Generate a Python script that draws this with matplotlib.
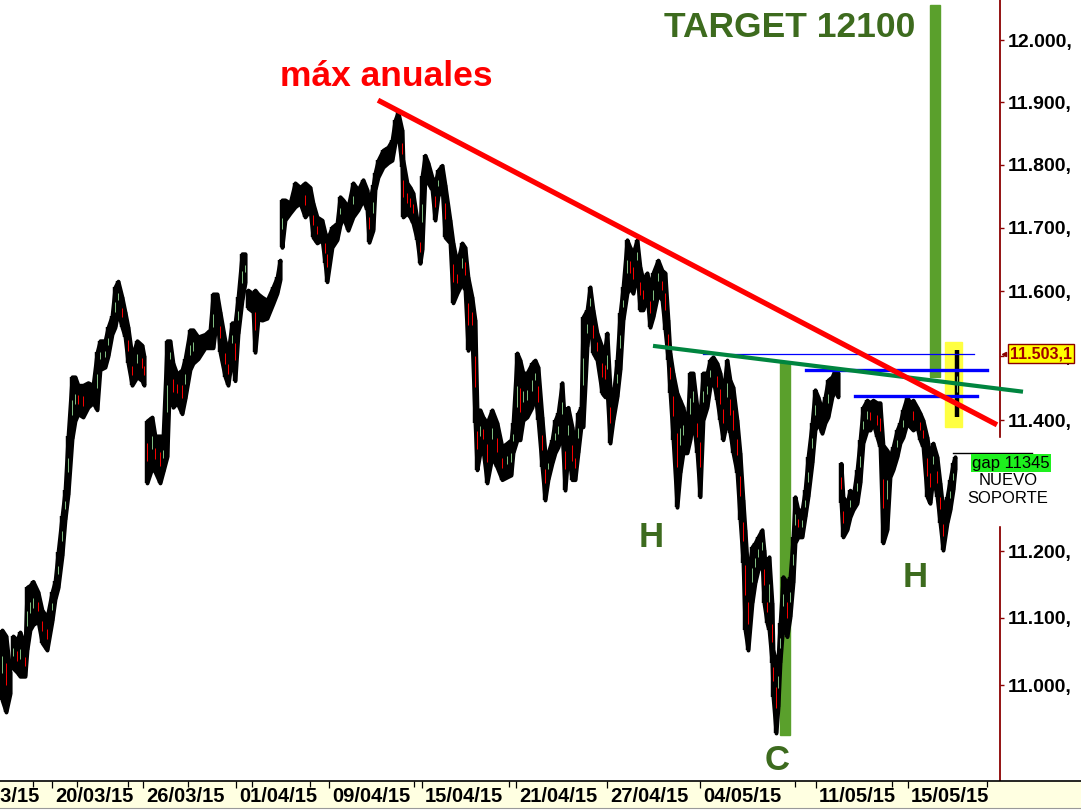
import numpy as np
import matplotlib.pyplot as plt
from matplotlib.ticker import FixedLocator, NullLocator, FuncFormatter
from matplotlib.patches import Rectangle

plt.rcParams['font.family'] = ['Liberation Sans', 'DejaVu Sans']

#-------------- price data (intraday bars, high / low) ------------------------------

bar = [2, 6, 10, 13, 17, 20, 25, 27, 30, 33, 38, 42, 47, 52, 55, 58, 62, 65, 68, 72,
       75, 78, 83, 88, 93, 97, 100, 105, 108, 112, 115, 118, 122, 125, 128, 132, 137, 142, 144, 147,
       152, 155, 160, 163, 167, 170, 173, 177, 182, 185, 190, 193, 198, 205, 210, 213, 217, 220, 225, 228,
       232, 235, 238, 242, 245, 248, 253, 255, 258, 262, 267, 273, 277, 280, 282, 285, 290, 295, 300, 305,
       310, 313, 317, 322, 325, 327, 332, 337, 340, 343, 348, 353, 358, 363, 367, 369, 373, 375, 378, 383,
       388, 392, 395, 398, 402, 403, 407, 410, 413, 417, 420, 422, 425, 428, 432, 435, 438, 442, 445, 450,
       453, 457, 462, 465, 468, 472, 475, 477, 480, 483, 487, 492, 497, 502, 507, 511, 513, 517, 520, 523,
       527, 532, 535, 538, 542, 545, 548, 552, 555, 558, 562, 565, 568, 572, 575, 578, 581, 583, 587, 590,
       593, 597, 602, 605, 607, 610, 613, 617, 620, 623, 627, 630, 633, 637, 640, 643, 647, 650, 653, 658,
       662, 665, 668, 670, 673, 677, 680, 683, 687, 690, 693, 697, 700, 703, 707, 710, 713, 717, 720, 723,
       727, 730, 733, 737, 740, 743, 745, 748, 752, 755, 758, 762, 764, 767, 769, 772, 773, 776, 778, 780,
       783, 787, 790, 793, 795, 798, 802, 805, 808, 812, 815, 818, 822, 825, 828, 832, 835, 838, 841, 843,
       847, 850, 853, 857, 860, 863, 867, 870, 873, 877, 880, 883, 887, 890, 893, 897, 900, 903, 907, 910,
       913, 917, 920, 923, 927, 930, 933, 937, 940, 943, 947, 950, 953, 955, 957]

high = [11082, 11073, 11019, 11073, 11067, 11079, 11058, 11146, 11149, 11155, 11139, 11112, 11101, 11139, 11155, 11199, 11254, 11293, 11376, 11467,
        11467, 11454, 11454, 11458, 11454, 11505, 11523, 11523, 11544, 11562, 11607, 11616, 11591, 11568, 11544, 11499, 11523, 11516, 11499, 11399,
        11405, 11376, 11376, 11376, 11523, 11523, 11488, 11471, 11478, 11495, 11540, 11540, 11529, 11533, 11540, 11596, 11596, 11568, 11523, 11505,
        11551, 11551, 11591, 11659, 11659, 11602, 11596, 11602, 11596, 11591, 11586, 11607, 11622, 11649, 11744, 11744, 11739, 11771, 11764, 11771,
        11764, 11739, 11717, 11712, 11692, 11681, 11701, 11707, 11749, 11744, 11733, 11771, 11760, 11776, 11760, 11739, 11767, 11787, 11807, 11823,
        11828, 11839, 11871, 11884, 11855, 11807, 11771, 11764, 11755, 11712, 11696, 11782, 11815, 11803, 11780, 11771, 11791, 11799, 11768, 11712,
        11676, 11644, 11676, 11669, 11622, 11591, 11555, 11416, 11416, 11405, 11396, 11416, 11396, 11359, 11365, 11370, 11396, 11504, 11493, 11473,
        11473, 11488, 11493, 11482, 11405, 11350, 11350, 11370, 11400, 11411, 11458, 11385, 11420, 11390, 11359, 11411, 11420, 11560, 11571, 11607,
        11571, 11535, 11513, 11513, 11535, 11451, 11436, 11493, 11566, 11607, 11681, 11669, 11660, 11681, 11638, 11618, 11629, 11607, 11629, 11649,
        11633, 11629, 11555, 11504, 11473, 11442, 11431, 11420, 11390, 11473, 11473, 11420, 11411, 11473, 11473, 11493, 11498, 11488, 11473, 11442,
        11493, 11462, 11451, 11400, 11350, 11278, 11233, 11162, 11207, 11213, 11222, 11233, 11202, 11142, 11192, 11122, 11052, 11033, 11042, 11092,
        11162, 11153, 11162, 11222, 11283, 11263, 11263, 11293, 11344, 11396, 11447, 11436, 11416, 11436, 11462, 11467, 11478, 11473, 11334, 11283,
        11273, 11293, 11283, 11324, 11370, 11420, 11431, 11427, 11431, 11427, 11427, 11362, 11354, 11344, 11359, 11385, 11396, 11416, 11436, 11427,
        11431, 11420, 11411, 11400, 11374, 11344, 11365, 11344, 11304, 11263, 11283, 11309, 11334, 11344, 11508]

low = [10978, 10960, 10987, 11025, 11019, 11013, 11013, 11052, 11082, 11090, 11095, 11063, 11052, 11095, 11128, 11145, 11193, 11248, 11286, 11371,
       11399, 11410, 11405, 11420, 11427, 11416, 11478, 11482, 11499, 11533, 11544, 11568, 11544, 11529, 11488, 11454, 11467, 11461, 11454, 11304,
       11327, 11321, 11304, 11321, 11344, 11478, 11420, 11427, 11410, 11433, 11478, 11488, 11495, 11512, 11512, 11512, 11562, 11505, 11467, 11454,
       11499, 11461, 11533, 11586, 11613, 11574, 11568, 11505, 11557, 11555, 11558, 11581, 11597, 11618, 11669, 11712, 11723, 11733, 11739, 11717,
       11728, 11685, 11676, 11681, 11644, 11615, 11669, 11681, 11704, 11717, 11696, 11717, 11728, 11744, 11728, 11677, 11696, 11760, 11780, 11796,
       11803, 11807, 11834, 11850, 11796, 11717, 11723, 11717, 11707, 11681, 11644, 11665, 11780, 11771, 11760, 11712, 11750, 11764, 11685, 11676,
       11582, 11597, 11613, 11602, 11508, 11524, 11396, 11324, 11350, 11354, 11304, 11344, 11328, 11309, 11313, 11316, 11350, 11370, 11370, 11400,
       11405, 11420, 11442, 11400, 11328, 11278, 11309, 11334, 11350, 11359, 11380, 11293, 11350, 11309, 11309, 11350, 11390, 11390, 11513, 11560,
       11504, 11493, 11442, 11436, 11446, 11365, 11400, 11436, 11478, 11555, 11597, 11607, 11597, 11629, 11571, 11571, 11591, 11544, 11560, 11597,
       11586, 11540, 11493, 11442, 11370, 11267, 11319, 11350, 11350, 11370, 11400, 11350, 11283, 11400, 11420, 11451, 11462, 11431, 11400, 11370,
       11400, 11380, 11350, 11319, 11248, 11183, 11082, 11052, 11122, 11153, 11172, 11183, 11122, 11092, 11082, 11033, 10982, 10929, 10967, 11033,
       11092, 11072, 11101, 11153, 11213, 11222, 11222, 11252, 11283, 11334, 11385, 11396, 11380, 11396, 11405, 11436, 11447, 11436, 11273, 11222,
       11233, 11252, 11263, 11273, 11304, 11365, 11385, 11385, 11396, 11374, 11359, 11213, 11233, 11313, 11324, 11344, 11365, 11374, 11396, 11390,
       11385, 11390, 11370, 11359, 11283, 11273, 11313, 11283, 11243, 11202, 11243, 11263, 11293, 11324, 11405]

last_price = 11503.1
gap_level = 11350

price_ticks = [11000, 11100, 11200, 11300, 11400, 11500, 11600, 11700, 11800, 11900, 12000]

date_ticks = [-41, 52, 143, 236, 329, 422, 516, 607, 700, 816, 908]
date_labels = ['16/03/15', '20/03/15', '26/03/15', '01/04/15', '09/04/15', '15/04/15',
               '21/04/15', '27/04/15', '04/05/15', '11/05/15', '15/05/15']
minor_ticks = [33, 77, 128, 188, 252, 310, 414, 509, 795, 892, 987]

# drawn studies
red_line_bar, red_line_price = [378, 997], [11903, 11393]
green_line_bar, green_line_price = [653, 1023], [11515, 11444]
blue_thin_bar, blue_thin_price = [703, 974], [11502, 11502]
blue_1_bar, blue_1_price = [806, 987], [11478, 11478]
blue_2_bar, blue_2_price = [855, 977], [11437, 11437]

#-------------- figure -------------------------------------------------------------

fig = plt.figure(figsize=(10.81, 8.10), dpi=100)
ax = fig.add_axes([0, 29 / 810, 1000 / 1081, 781 / 810])
ax.set_xlim(0, 1000)
ax.set_yscale('log')
ax.set_ylim(10858.5, 12065)

t = np.array(bar)
hi = np.array(high, dtype=float)
lo = np.array(low, dtype=float)

# price blob, split at opening gaps
breaks = np.where((hi[1:] < lo[:-1]) | (lo[1:] > hi[:-1]))[0] + 1
for seg in np.split(np.arange(len(t)), breaks):
    if len(seg) > 1:
        ax.fill_between(t[seg], lo[seg], hi[seg], facecolor='black', edgecolor='black',
                        lw=2.8, zorder=3, antialiased=False)
ax.vlines(t, lo, hi, color='black', lw=3.2, zorder=3)

# small candle bodies inside the blob
mid = (hi + lo) / 2
up = np.r_[True, mid[1:] >= mid[:-1]]
rng = hi - lo
big = rng > 40
sel_up = up & big
sel_dn = ~up & big
ax.vlines(t[sel_up], lo[sel_up] + 0.38 * rng[sel_up], hi[sel_up] - 0.38 * rng[sel_up],
          color='#98e098', lw=0.6, zorder=4)
ax.vlines(t[sel_dn], lo[sel_dn] + 0.35 * rng[sel_dn], hi[sel_dn] - 0.35 * rng[sel_dn],
          color='#ff0000', lw=0.7, zorder=4)

# highlight boxes and target bars
ax.add_patch(Rectangle((945, 11390), 17, 11521 - 11390, color='#ffff40', zorder=2))
ax.add_patch(Rectangle((780, 10926), 10, 11490 - 10926, color='#5aa02c', zorder=2))
ax.add_patch(Rectangle((930, 11467), 10, 12057 - 11467, color='#5aa02c', zorder=2))

# trend lines
ax.plot(blue_thin_bar, blue_thin_price, color='#0000ff', lw=0.9, zorder=5)
ax.plot(blue_1_bar, blue_1_price, color='#0000ff', lw=2.4, zorder=5)
ax.plot(blue_2_bar, blue_2_price, color='#0000ff', lw=2.4, zorder=5)
ax.plot(green_line_bar, green_line_price, color='#00853f', lw=3.0, zorder=5,
        clip_on=False, solid_capstyle='butt')
ax.plot(red_line_bar, red_line_price, color='#ff0000', lw=3.8, zorder=6, solid_capstyle='butt')

# labels on the chart
dark_green = '#3d6b1e'
ax.text(386, 11926, 'máx anuales', color='#ff0000', fontsize=25.5, fontweight='bold',
        ha='center', va='baseline', zorder=7)
ax.text(790, 12005, 'TARGET 12100', color=dark_green, fontsize=25.5, fontweight='bold',
        ha='center', va='baseline', zorder=7)
ax.text(651, 11207, 'H', color=dark_green, fontsize=25, fontweight='bold', ha='center', va='baseline')
ax.text(915, 11147, 'H', color=dark_green, fontsize=25, fontweight='bold', ha='center', va='baseline')
ax.text(777, 10875, 'C', color=dark_green, fontsize=25, fontweight='bold', ha='center', va='baseline')

#-------------- right price axis ---------------------------------------------------

for s in ['left', 'top', 'bottom']:
    ax.spines[s].set_visible(False)
ax.spines['right'].set_color('#8b0000')
ax.spines['right'].set_linewidth(1.3)
ax.set_xticks([])
ax.yaxis.set_major_locator(FixedLocator(price_ticks))
ax.yaxis.set_minor_locator(NullLocator())
ax.yaxis.set_major_formatter(FuncFormatter(lambda v, _: f"{v / 1000:.3f},"))
ax.tick_params(axis='y', which='major', left=False, right=True, labelleft=False, labelright=True,
               length=3, width=1, color='#8b0000', pad=2.5, labelsize=14)
for lab in ax.get_yticklabels():
    lab.set_fontweight('bold')

# last price flag
ax.plot([1004], [last_price], marker='<', ms=3, color='#8b0000', clip_on=False, zorder=8)
ax.text(1010, last_price, f"{last_price:,.1f}".replace(',', 'X').replace('.', ',').replace('X', '.'),
        color='#a00000', fontsize=11.5, fontweight='bold', ha='left', va='center', clip_on=False,
        zorder=9, bbox=dict(boxstyle='square,pad=0.12', facecolor='#ffff00', edgecolor='#8b0000', lw=1))

# gap / support note
ax.add_patch(Rectangle((965, 11240), 116, 11373 - 11240, color='white', clip_on=False, zorder=7))
ax.plot([953, 1032], [gap_level, gap_level], color='black', lw=1, clip_on=False, zorder=8)
ax.text(1011, 11334, 'gap 11345', color='black', fontsize=12, ha='center', va='center',
        clip_on=False, zorder=9, bbox=dict(boxstyle='square,pad=0.1', facecolor='#1ef01e', edgecolor='none'))
ax.text(1008, 11308, 'NUEVO', color='black', fontsize=12, ha='center', va='center', clip_on=False, zorder=9)
ax.text(1008, 11281, 'SOPORTE', color='black', fontsize=12, ha='center', va='center', clip_on=False, zorder=9)

#-------------- date strip ---------------------------------------------------------

sax = fig.add_axes([0, 2 / 810, 1, 27 / 810])
sax.set_xlim(0, 1081)
sax.set_ylim(0, 1)
sax.set_facecolor('#ffffe1')
sax.set_xticks([])
sax.set_yticks([])
sax.spines['left'].set_visible(False)
sax.spines['right'].set_visible(False)
sax.spines['top'].set_color('black')
sax.spines['top'].set_linewidth(1.2)
sax.spines['bottom'].set_color('#999999')
sax.vlines(date_ticks, 0.74, 1, color='black', lw=0.9)
sax.vlines(minor_ticks, 0.78, 1, color='black', lw=0.9)
for tk, lab in zip(date_ticks, date_labels):
    sax.text(tk + 3, 0.44, lab, fontsize=14.5, fontweight='bold', ha='left', va='center', clip_on=True)

plt.savefig('out.png', dpi=100)
